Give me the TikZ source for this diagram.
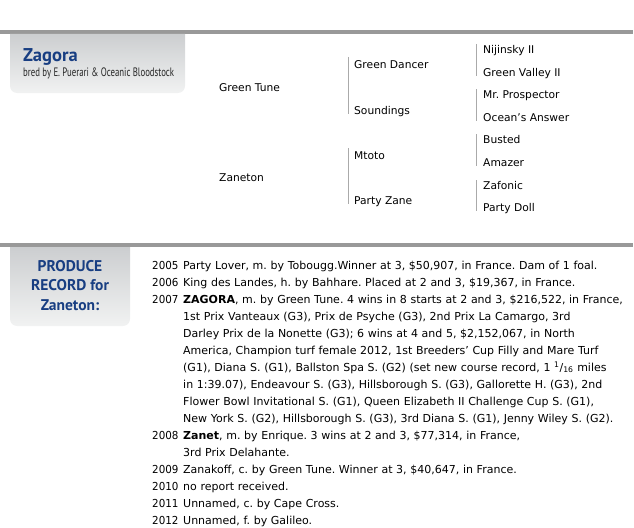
\documentclass[tikz,border=0pt]{standalone}
\usepackage{graphicx}
\usepackage{fontspec}
\setmainfont{DejaVu Sans}
\newfontfamily\headfont{PT Sans}
\newfontfamily\bredfont{PT Sans}[FakeStretch=0.72]
\definecolor{rulegray}{RGB}{153,153,153}
\definecolor{bargray}{RGB}{170,170,170}
\definecolor{headblue}{RGB}{24,62,130}
\definecolor{boxtop}{RGB}{204,206,208}
\definecolor{boxbottom}{RGB}{241,242,242}
\newcommand{\foal}[2]{\hangindent=31pt\hangafter=1\noindent\makebox[31pt][l]{\scalebox{0.94}[1]{#1}}#2\par}
\frenchspacing
\begin{document}
\begin{tikzpicture}[x=1pt,y=1pt,
	ped/.style={anchor=base west,inner sep=0pt,font=\fontsize{10.7}{12}\selectfont},
	bar/.style={bargray,line width=0.8pt},
	boxshade/.style={top color=boxtop,bottom color=boxbottom}]
	\useasboundingbox (0,0) rectangle (634,-527);
	
	% rules and boxes
	\fill[rulegray] (0,-30) rectangle (633,-34);
	\fill[rulegray] (0,-243) rectangle (633,-247);
	\shade[boxshade] (10,-34) -- (10,-86) arc[start angle=180,end angle=270,radius=7pt] -- (178,-93) arc[start angle=270,end angle=360,radius=7pt] -- (185,-34) -- cycle;
	\shade[boxshade] (10,-247) -- (10,-319) arc[start angle=180,end angle=270,radius=7pt] -- (123,-326) arc[start angle=270,end angle=360,radius=7pt] -- (130,-247) -- cycle;
	
	\node[anchor=base west,inner sep=0pt,text=headblue,font=\headfont\bfseries\fontsize{18.5}{20}\selectfont] at (23,-61) (name) {Zagora};
	\node[anchor=base west,inner sep=0pt,text=black!85,font=\bredfont\fontsize{12.2}{14}\selectfont] at (23,-77) (bred) {bred by E. Puerari \& Oceanic Bloodstock};
	\node[anchor=base,inner sep=0pt,align=center,text=headblue,font=\headfont\bfseries\fontsize{15.5}{19.5}\selectfont] at (70,-310) (prod) {PRODUCE\\RECORD for\\Zaneton:};
	
	% pedigree
	\node[ped] at (219,-91) (gt) {Green Tune};
	\node[ped] at (219,-181) (zn) {Zaneton};
	\node[ped] at (354,-68) (gd) {Green Dancer};
	\node[ped] at (354,-114) (sd) {Soundings};
	\node[ped] at (354,-159) (mt) {Mtoto};
	\node[ped] at (354,-204) (pz) {Party Zane};
	\node[ped] at (483,-53) (nj) {Nijinsky II};
	\node[ped] at (483,-76) (gv) {Green Valley II};
	\node[ped] at (483,-98) (mp) {Mr. Prospector};
	\node[ped] at (483,-121) (oa) {Ocean's Answer};
	\node[ped] at (483,-143) (bu) {Busted};
	\node[ped] at (483,-166) (am) {Amazer};
	\node[ped] at (483,-189) (zf) {Zafonic};
	\node[ped] at (483,-211) (pd) {Party Doll};
	
	\foreach \a/\b/\s/\t in {gd/sd/6/11,mt/pz/6/11,nj/gv/7/9,mp/oa/7/9,bu/am/7/9,zf/pd/7/9}{
		\draw[bar] ([xshift=-\s pt,yshift=\t pt]\a.base west) -- ([xshift=-\s pt]\b.base west);
	}
	
	% produce record
	\node[anchor=base west,inner sep=0pt,text width=500pt,align=left,font=\fontsize{11}{17}\selectfont] at (152,-269) (rec) {%
		\foal{2005}{Party Lover, m. by Tobougg.Winner at 3, \$50,907, in France. Dam of 1 foal.}
		\foal{2006}{King des Landes, h. by Bahhare. Placed at 2 and 3, \$19,367, in France.}
		\foal{2007}{\textbf{ZAGORA}, m. by Green Tune. 4 wins in 8 starts at 2 and 3, \$216,522, in France,\newline
			1st Prix Vanteaux (G3), Prix de Psyche (G3), 2nd Prix La Camargo, 3rd\newline
			Darley Prix de la Nonette (G3); 6 wins at 4 and 5, \$2,152,067, in North\newline
			America, Champion turf female 2012, 1st Breeders’ Cup Filly and Mare Turf\newline
			(G1), Diana S. (G1), Ballston Spa S. (G2) (set new course record, 1 \textsuperscript{1}/\textsubscript{16} miles\newline
			in 1:39.07), Endeavour S. (G3), Hillsborough S. (G3), Gallorette H. (G3), 2nd\newline
			Flower Bowl Invitational S. (G1), Queen Elizabeth II Challenge Cup S. (G1),\newline
			New York S. (G2), Hillsborough S. (G3), 3rd Diana S. (G1), Jenny Wiley S. (G2).}
		\foal{2008}{\textbf{Zanet}, m. by Enrique. 3 wins at 2 and 3, \$77,314, in France,\newline
			3rd Prix Delahante.}
		\foal{2009}{Zanakoff, c. by Green Tune. Winner at 3, \$40,647, in France.}
		\foal{2010}{no report received.}
		\foal{2011}{Unnamed, c. by Cape Cross.}
		\foal{2012}{Unnamed, f. by Galileo.}
	};
	
\end{tikzpicture}
\end{document}
